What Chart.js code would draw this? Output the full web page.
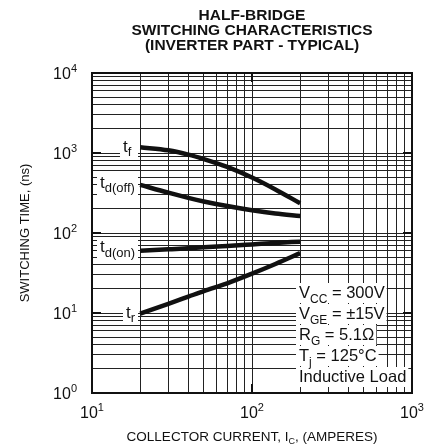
<!DOCTYPE html>
<html>
<head>
<meta charset="utf-8">
<script src="https://cdn.jsdelivr.net/npm/chart.js@4/dist/chart.umd.min.js"></script>
<style>
html,body{margin:0;padding:0;background:#fff;overflow:hidden;}
#wrap{width:438px;height:445px;}
</style>
</head>
<body>
<div id="wrap"><canvas id="c" width="438" height="445"></canvas></div>
<script>
// ---- data ----
const currents = [20, 30, 40, 50, 70, 100, 140, 200];      // collector current, A
const tF     = [1180, 1080, 955, 840, 670, 493, 350, 235]; // ns
const tDoff  = [400, 319, 275, 248, 217, 192, 175, 163];
const tDon   = [60, 62.5, 64.5, 66.5, 69, 72, 75, 78];
const tR     = [9.8, 13, 16, 18.8, 23.5, 31, 41, 56];
const xTickLabels = [["10","1",10],["10","2",100],["10","3",1000]];
const yTickLabels = [["10","0",1],["10","1",10],["10","2",100],["10","3",1000],["10","4",10000]];
const titleLines = ["HALF-BRIDGE","SWITCHING CHARACTERISTICS","(INVERTER PART - TYPICAL)"];
const xTitle = ["COLLECTOR CURRENT, I","C",", (AMPERES)"];
const yTitle = "SWITCHING TIME, (ns)";
const conditions = [
  ["V","CC"," = 300V"],
  ["V","GE"," = \u00b115V"],
  ["R","G"," = 5.1\u03a9"],
  ["T","j"," = 125\u00b0C"],
  ["Inductive Load","",""]
];
const curveLabels = [["t","f"],["t","d(off)"],["t","d(on)"],["t","r"]];

const FONT = "'Liberation Sans', Arial, Helvetica, sans-serif";
const toXY = arr => currents.map((x,i)=>({x:x, y:arr[i]}));

function decadeTicks(min,max){
  const t=[];
  for(let d=min; d<max; d*=10){ for(let k=1;k<10;k++) t.push({value:k*d}); }
  t.push({value:max});
  return t;
}
function richWidth(ctx, parts){
  let w=0;
  parts.forEach(p=>{ ctx.font = p.f; w += ctx.measureText(p.t).width; });
  return w;
}
function drawRich(ctx, parts, x, y){
  let cx=x;
  parts.forEach(p=>{
    ctx.font = p.f;
    ctx.fillText(p.t, cx, y + (p.dy||0));
    cx += ctx.measureText(p.t).width;
  });
  return cx;
}

const labelPos = [
  {x:123, y:152, sdy:4, box:[120,138,18,21]},
  {x:100, y:188, sdy:4, box:[97,173,41,23]},
  {x:100, y:252, sdy:5, box:[97,237,41,24]},
  {x:126, y:318, sdy:4, box:[123,305,15,20]}
];
function condParts(c){
  const parts=[{t:c[0], f:"16.5px "+FONT}];
  if(c[1]) parts.push({t:c[1], f:"12px "+FONT, dy:5});
  if(c[2]) parts.push({t:c[2], f:"16.5px "+FONT});
  return parts;
}
const condX = 299, condY0 = 298, condDY = 21;

const decor = {
  id:'decor',
  beforeDatasetsDraw(chart){
    const ctx=chart.ctx;
    ctx.save();
    ctx.fillStyle='#fff';
    labelPos.forEach(l=>ctx.fillRect(l.box[0],l.box[1],l.box[2],l.box[3]));
    conditions.forEach((c,i)=>{
      const w=richWidth(ctx,condParts(c));
      const by=condY0+i*condDY;
      ctx.fillRect(condX-3, by-15, w+5, 20);
    });
    ctx.restore();
  },
  afterDraw(chart){
    const ctx=chart.ctx, a=chart.chartArea;
    const xs=chart.scales.x, ys=chart.scales.y;
    ctx.save();
    ctx.strokeStyle='#111'; ctx.lineWidth=2;
    ctx.strokeRect(a.left, a.top, a.right-a.left, a.bottom-a.top);
    ctx.beginPath();
    yTickLabels.forEach(t=>{
      const py=Math.round(ys.getPixelForValue(t[2]));
      ctx.moveTo(a.left, py); ctx.lineTo(a.left+9, py);
      ctx.moveTo(a.right, py); ctx.lineTo(a.right-9, py);
    });
    xTickLabels.forEach(t=>{
      const px=Math.round(xs.getPixelForValue(t[2]));
      ctx.moveTo(px, a.top); ctx.lineTo(px, a.top+9);
      ctx.moveTo(px, a.bottom); ctx.lineTo(px, a.bottom-9);
    });
    ctx.stroke();

    ctx.fillStyle='#111';
    ctx.textBaseline='alphabetic';
    ctx.font="bold 15.5px "+FONT; ctx.textAlign='center';
    const cx=(a.left+a.right)/2;
    titleLines.forEach((t,i)=>ctx.fillText(t, cx, 20+i*15));
    ctx.textAlign='left';
    yTickLabels.forEach(t=>{
      const py=ys.getPixelForValue(t[2]);
      const parts=[{t:t[0], f:"16px "+FONT},{t:t[1], f:"11px "+FONT, dy:-7}];
      const w=richWidth(ctx,parts);
      drawRich(ctx, parts, 77-w, py+6);
    });
    xTickLabels.forEach(t=>{
      const px=xs.getPixelForValue(t[2]);
      const parts=[{t:t[0], f:"16px "+FONT},{t:t[1], f:"11px "+FONT, dy:-7}];
      const w=richWidth(ctx,parts);
      drawRich(ctx, parts, px-w/2, 418);
    });
    const xp=[{t:xTitle[0], f:"13.5px "+FONT},{t:xTitle[1], f:"9px "+FONT, dy:3},{t:xTitle[2], f:"13.5px "+FONT}];
    const xw=richWidth(ctx,xp);
    drawRich(ctx, xp, cx-xw/2, 441);
    // y title (rotated)
    ctx.setTransform(0,-1,1,0,29,(a.top+a.bottom)/2);
    ctx.font="13px "+FONT; ctx.textAlign='center';
    ctx.fillText(yTitle, 0, 0);
    ctx.setTransform(1,0,0,1,0,0);
    ctx.textAlign='left';
    curveLabels.forEach((l,i)=>{
      const p=labelPos[i];
      drawRich(ctx, [{t:l[0], f:"17px "+FONT},{t:l[1], f:"13px "+FONT, dy:p.sdy}], p.x, p.y);
    });
    conditions.forEach((c,i)=>drawRich(ctx, condParts(c), condX, condY0+i*condDY));
    ctx.restore();
  }
};

const lineDs = (label, arr) => ({
  label, data: toXY(arr), borderColor:'#111', borderWidth:4.5,
  pointRadius:0, fill:false, cubicInterpolationMode:'monotone', borderCapStyle:'butt'
});

new Chart(document.getElementById('c'), {
  type:'line',
  data:{ datasets:[ lineDs('tf',tF), lineDs('td(off)',tDoff), lineDs('td(on)',tDon), lineDs('tr',tR) ] },
  options:{
    responsive:false, animation:false, devicePixelRatio:1,
    layout:{ padding:{ top:73, right:26, left:0, bottom:0 } },
    plugins:{ legend:{display:false}, tooltip:{enabled:false}, title:{display:false} },
    scales:{
      x:{
        type:'logarithmic', min:10, max:1000,
        afterBuildTicks: s => { s.ticks = decadeTicks(10,1000); },
        afterFit: s => { s.height = 52; },
        ticks:{ display:false, autoSkip:false },
        grid:{ color:'#222', lineWidth:1, drawTicks:false },
        border:{ display:false }
      },
      y:{
        type:'logarithmic', min:1, max:10000,
        afterBuildTicks: s => { s.ticks = decadeTicks(1,10000); },
        afterFit: s => { s.width = 92; },
        ticks:{ display:false, autoSkip:false },
        grid:{ color:'#222', lineWidth:1, drawTicks:false },
        border:{ display:false }
      }
    }
  },
  plugins:[decor]
});
</script>
</body>
</html>
